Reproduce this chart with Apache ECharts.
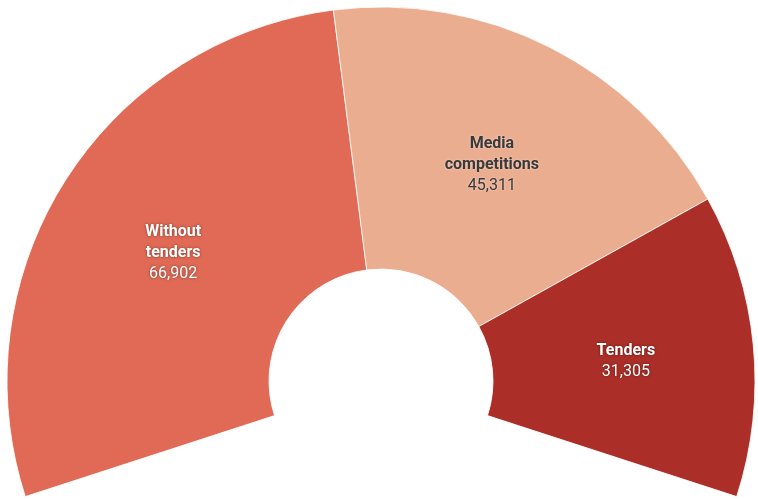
<!DOCTYPE html>
<html>
<head>
<meta charset="utf-8">
<script src="https://cdn.jsdelivr.net/npm/echarts@6/dist/echarts.min.js"></script>
<style>html,body{margin:0;padding:0;background:#fff}#c{width:758px;height:499px}</style>
</head>
<body>
<div id="c"></div>
<script>
const categories = ['Without tenders', 'Media competitions', 'Tenders'];
const labelLines = ['Without\ntenders', 'Media\ncompetitions', 'Tenders'];
const values = [66902, 45311, 31305];
const colors = ['#e06a55', '#eaad90', '#ab2f28'];
const textColors = ['#ffffff', '#3a3a3a', '#ffffff'];
const shadowColors = ['rgba(0,0,0,0.45)', 'rgba(255,255,255,0.5)', 'rgba(0,0,0,0.45)'];

const chart = echarts.init(document.getElementById('c'), null, {renderer: 'canvas'});
const data = categories.map((name, i) => ({
  name: name,
  value: values[i],
  itemStyle: {color: colors[i]},
  label: {
    formatter: p => '{b|' + labelLines[i].split('\n').join('}\n{b|') + '}\n{v|' + p.value.toLocaleString('en-US') + '}',
    rich: {
      b: {fontFamily: 'Roboto', fontWeight: 'bold', fontSize: 16, lineHeight: 21, color: textColors[i],
          textShadowColor: shadowColors[i], textShadowBlur: 3},
      v: {fontFamily: 'Roboto', fontSize: 16, lineHeight: 21, color: textColors[i],
          textShadowColor: shadowColors[i], textShadowBlur: 3}
    }
  }
}));

chart.setOption({
  animation: false,
  backgroundColor: '#ffffff',
  series: [{
    type: 'pie',
    center: [381, 381],
    radius: [112, 374],
    startAngle: 198,
    endAngle: -18,
    clockwise: true,
    avoidLabelOverlap: false,
    itemStyle: {borderColor: '#ffffff', borderWidth: 0.8},
    label: {show: true, position: 'inside', align: 'center', offset: [0, 4]},
    labelLine: {show: false},
    emphasis: {disabled: true},
    data: data
  }]
});
</script>
</body>
</html>
